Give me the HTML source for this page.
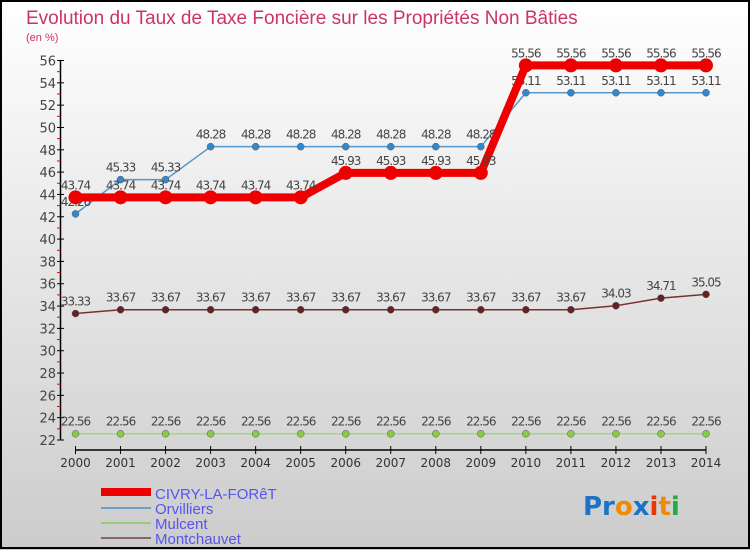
<!DOCTYPE html>
<html><head><meta charset="utf-8"><style>
html,body{margin:0;padding:0}
body{width:750px;height:550px;overflow:hidden;font-family:"DejaVu Sans","Liberation Sans",sans-serif}
</style></head><body>
<svg id="c" width="750" height="550" xmlns="http://www.w3.org/2000/svg">
<defs><linearGradient id="bg" x1="0" y1="0" x2="0" y2="1"><stop offset="0" stop-color="#ffffff"/><stop offset="1" stop-color="#cccccc"/></linearGradient></defs>
<rect x="0" y="0" width="750" height="550" fill="url(#bg)"/>
<rect x="1" y="1" width="748" height="547" fill="none" stroke="#000" stroke-width="2"/>
<text x="26" y="24" font-size="19" fill="#cc3366" font-family="Liberation Sans, sans-serif">Evolution du Taux de Taxe Foncière sur les Propriétés Non Bâties</text>
<text x="26" y="41" font-size="11" fill="#cc3366" font-family="Liberation Sans, sans-serif">(en %)</text>
<g id="axes"></g><g id="series"></g>
<g>
<rect x="101" y="488" width="50" height="8" fill="#ee0000"/>
<line x1="101" y1="508" x2="151" y2="508" stroke="#6aa0cc" stroke-width="2"/>
<line x1="101" y1="523" x2="151" y2="523" stroke="#99cc77" stroke-width="2"/>
<line x1="101" y1="538" x2="151" y2="538" stroke="#886666" stroke-width="2"/>
<g font-size="15" fill="#5555ee" font-family="Liberation Sans, sans-serif">
<text x="155" y="499">CIVRY-LA-FORêT</text>
<text x="155" y="514">Orvilliers</text>
<text x="155" y="529">Mulcent</text>
<text x="155" y="544">Montchauvet</text>
</g></g>
<g font-size="26" font-family="DejaVu Sans, sans-serif" font-weight="bold">
<text x="583" y="515"><tspan fill="#1a73c9">Pr</tspan><tspan fill="#f08a00">o</tspan><tspan fill="#1a73c9">x</tspan><tspan fill="#ee3300">i</tspan><tspan fill="#f08a00">t</tspan><tspan fill="#22aa44">i</tspan></text>
</g>
</svg>
<script>
const years=[2000,2001,2002,2003,2004,2005,2006,2007,2008,2009,2010,2011,2012,2013,2014];
const civry=[43.74,43.74,43.74,43.74,43.74,43.74,45.93,45.93,45.93,45.93,55.56,55.56,55.56,55.56,55.56];
const orvilliers=[42.26,45.33,45.33,48.28,48.28,48.28,48.28,48.28,48.28,48.28,53.11,53.11,53.11,53.11,53.11];
const mulcent=[22.56,22.56,22.56,22.56,22.56,22.56,22.56,22.56,22.56,22.56,22.56,22.56,22.56,22.56,22.56];
const montchauvet=[33.33,33.67,33.67,33.67,33.67,33.67,33.67,33.67,33.67,33.67,33.67,33.67,34.03,34.71,35.05];
const yTicks=[22,24,26,28,30,32,34,36,38,40,42,44,46,48,50,52,54,56];
const NS="http://www.w3.org/2000/svg";
const xS=i=>75.5+i*(706-75.5)/14;
const yS=v=>440-(v-22)*(440-60.5)/34;
function mk(tag,attrs,parent){const e=document.createElementNS(NS,tag);for(const k in attrs)e.setAttribute(k,attrs[k]);parent.appendChild(e);return e;}
const ax=document.getElementById('axes');
let l=mk('line',{x1:60.5,y1:yS(56),x2:60.5,y2:yS(22),stroke:'#000','stroke-width':1.5},ax);


yTicks.forEach((v,k)=>{
 mk('line',{x1:57,y1:yS(v),x2:64,y2:yS(v),stroke:'#000'},ax);
 if(k<yTicks.length-1) mk('line',{x1:57,y1:yS(v+1),x2:60.5,y2:yS(v+1),stroke:'#e00'},ax);
 const t=mk('text',{x:56,y:yS(v)+5,'text-anchor':'end','font-size':13,fill:'#444'},ax);
 
 
 t.textContent=v;
});
l=mk('line',{x1:xS(0),y1:450,x2:xS(14),y2:450,stroke:'#000','stroke-width':1.5},ax);


years.forEach((y,i)=>{
 mk('line',{x1:xS(i),y1:446,x2:xS(i),y2:454,stroke:'#000'},ax);
 const t=mk('text',{x:xS(i),y:467,'text-anchor':'middle','font-size':12,fill:'#333'},ax);
 
 
 t.textContent=y;
});
const sg=document.getElementById('series');
function series(name,vals,color,w,r,dot){
 const g=mk('g',{},sg);
 
 
 const p=mk('polyline',{points:vals.map((v,i)=>xS(i)+','+yS(v)).join(' '),fill:'none',stroke:color,'stroke-width':w,'stroke-linejoin':'round'},g);
 
 
 vals.forEach((v,i)=>{
  const c=mk('circle',{cx:xS(i),cy:yS(v),r:r,fill:dot,stroke:'#555','stroke-width':r>5?0:0.5},g);
  
  
 });
 vals.forEach((v,i)=>{
  const t=mk('text',{x:xS(i),y:yS(v)-8,'text-anchor':'middle','font-size':12,fill:'#444','letter-spacing':'-1'},g);
  
  
  t.textContent=v.toFixed(2).replace(/0$/,'').replace(/\.$/,'');
 });
}
series('mulcent',mulcent,'#99dd77',1.5,3.5,'#88cc44');
series('montchauvet',montchauvet,'#773333',1.5,3.5,'#662222');
series('orvilliers',orvilliers,'#5599cc',1.5,3.5,'#3388cc');
series('civry',civry,'#ee0000',8,7,'#ee0000');
</script>
</body></html>
